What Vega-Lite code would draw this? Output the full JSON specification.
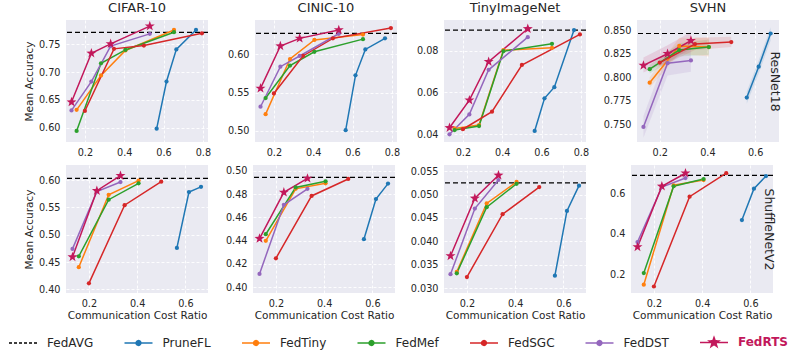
{
"$schema":"https://vega.github.io/schema/vega-lite/v6.json",
"padding":{"left":8,"top":2,"right":0,"bottom":0},
"background":"white",
"data":{"values":[
{"d":"c10","n":"r","m":"FedAVG","y":0.7717},
{"d":"c10","n":"r","m":"PruneFL","x":0.565,"y":0.598},{"d":"c10","n":"r","m":"PruneFL","x":0.615,"y":0.683},{"d":"c10","n":"r","m":"PruneFL","x":0.665,"y":0.741},{"d":"c10","n":"r","m":"PruneFL","x":0.765,"y":0.776},
{"d":"c10","n":"r","m":"FedTiny","x":0.158,"y":0.632},{"d":"c10","n":"r","m":"FedTiny","x":0.282,"y":0.694},{"d":"c10","n":"r","m":"FedTiny","x":0.406,"y":0.739},{"d":"c10","n":"r","m":"FedTiny","x":0.653,"y":0.776},
{"d":"c10","n":"r","m":"FedMef","x":0.158,"y":0.594},{"d":"c10","n":"r","m":"FedMef","x":0.282,"y":0.716},{"d":"c10","n":"r","m":"FedMef","x":0.406,"y":0.740},{"d":"c10","n":"r","m":"FedMef","x":0.653,"y":0.772},
{"d":"c10","n":"r","m":"FedSGC","x":0.2,"y":0.630},{"d":"c10","n":"r","m":"FedSGC","x":0.348,"y":0.742},{"d":"c10","n":"r","m":"FedSGC","x":0.5,"y":0.748},{"d":"c10","n":"r","m":"FedSGC","x":0.795,"y":0.770},
{"d":"c10","n":"r","m":"FedDST","x":0.132,"y":0.631},{"d":"c10","n":"r","m":"FedDST","x":0.233,"y":0.683},{"d":"c10","n":"r","m":"FedDST","x":0.331,"y":0.747},{"d":"c10","n":"r","m":"FedDST","x":0.53,"y":0.769},
{"d":"c10","n":"r","m":"FedRTS","x":0.132,"y":0.646},{"d":"c10","n":"r","m":"FedRTS","x":0.233,"y":0.734},{"d":"c10","n":"r","m":"FedRTS","x":0.331,"y":0.751},{"d":"c10","n":"r","m":"FedRTS","x":0.53,"y":0.783},

{"d":"cin","n":"r","m":"FedAVG","y":0.6275},
{"d":"cin","n":"r","m":"PruneFL","x":0.565,"y":0.501},{"d":"cin","n":"r","m":"PruneFL","x":0.615,"y":0.5727},{"d":"cin","n":"r","m":"PruneFL","x":0.665,"y":0.6065},{"d":"cin","n":"r","m":"PruneFL","x":0.765,"y":0.621},
{"d":"cin","n":"r","m":"FedTiny","x":0.158,"y":0.522},{"d":"cin","n":"r","m":"FedTiny","x":0.282,"y":0.594},{"d":"cin","n":"r","m":"FedTiny","x":0.406,"y":0.619},{"d":"cin","n":"r","m":"FedTiny","x":0.653,"y":0.626},
{"d":"cin","n":"r","m":"FedMef","x":0.158,"y":0.543},{"d":"cin","n":"r","m":"FedMef","x":0.282,"y":0.5855},{"d":"cin","n":"r","m":"FedMef","x":0.406,"y":0.6035},{"d":"cin","n":"r","m":"FedMef","x":0.653,"y":0.620},
{"d":"cin","n":"r","m":"FedSGC","x":0.2,"y":0.549},{"d":"cin","n":"r","m":"FedSGC","x":0.348,"y":0.598},{"d":"cin","n":"r","m":"FedSGC","x":0.5,"y":0.621},{"d":"cin","n":"r","m":"FedSGC","x":0.795,"y":0.6345},
{"d":"cin","n":"r","m":"FedDST","x":0.132,"y":0.5317},{"d":"cin","n":"r","m":"FedDST","x":0.233,"y":0.584},{"d":"cin","n":"r","m":"FedDST","x":0.331,"y":0.598},{"d":"cin","n":"r","m":"FedDST","x":0.53,"y":0.627},
{"d":"cin","n":"r","m":"FedRTS","x":0.132,"y":0.5557},{"d":"cin","n":"r","m":"FedRTS","x":0.233,"y":0.611},{"d":"cin","n":"r","m":"FedRTS","x":0.331,"y":0.621},{"d":"cin","n":"r","m":"FedRTS","x":0.53,"y":0.632},

{"d":"tin","n":"r","m":"FedAVG","y":0.0898},
{"d":"tin","n":"r","m":"PruneFL","x":0.565,"y":0.0416},{"d":"tin","n":"r","m":"PruneFL","x":0.615,"y":0.0572},{"d":"tin","n":"r","m":"PruneFL","x":0.665,"y":0.0625},{"d":"tin","n":"r","m":"PruneFL","x":0.765,"y":0.0898},
{"d":"tin","n":"r","m":"FedTiny","x":0.158,"y":0.0428},{"d":"tin","n":"r","m":"FedTiny","x":0.282,"y":0.0444},{"d":"tin","n":"r","m":"FedTiny","x":0.406,"y":0.0802},{"d":"tin","n":"r","m":"FedTiny","x":0.653,"y":0.0813},
{"d":"tin","n":"r","m":"FedMef","x":0.158,"y":0.0420},{"d":"tin","n":"r","m":"FedMef","x":0.282,"y":0.0439},{"d":"tin","n":"r","m":"FedMef","x":0.406,"y":0.0797},{"d":"tin","n":"r","m":"FedMef","x":0.653,"y":0.0832},
{"d":"tin","n":"r","m":"FedSGC","x":0.2,"y":0.0424},{"d":"tin","n":"r","m":"FedSGC","x":0.348,"y":0.0508},{"d":"tin","n":"r","m":"FedSGC","x":0.5,"y":0.0731},{"d":"tin","n":"r","m":"FedSGC","x":0.795,"y":0.0877},
{"d":"tin","n":"r","m":"FedDST","x":0.132,"y":0.0400},{"d":"tin","n":"r","m":"FedDST","x":0.233,"y":0.0495},{"d":"tin","n":"r","m":"FedDST","x":0.331,"y":0.0708},{"d":"tin","n":"r","m":"FedDST","x":0.53,"y":0.0864},
{"d":"tin","n":"r","m":"FedRTS","x":0.132,"y":0.0431},{"d":"tin","n":"r","m":"FedRTS","x":0.233,"y":0.0563},{"d":"tin","n":"r","m":"FedRTS","x":0.331,"y":0.0747},{"d":"tin","n":"r","m":"FedRTS","x":0.53,"y":0.0904},

{"d":"svh","n":"r","m":"FedAVG","y":0.8464},
{"d":"svh","n":"r","m":"PruneFL","x":0.565,"y":0.7786,"lo":0.772,"hi":0.785},{"d":"svh","n":"r","m":"PruneFL","x":0.615,"y":0.8113,"lo":0.804,"hi":0.818},{"d":"svh","n":"r","m":"PruneFL","x":0.665,"y":0.8464,"lo":0.839,"hi":0.853},
{"d":"svh","n":"r","m":"FedTiny","x":0.158,"y":0.7943,"lo":0.789,"hi":0.80},{"d":"svh","n":"r","m":"FedTiny","x":0.282,"y":0.8332,"lo":0.825,"hi":0.842},{"d":"svh","n":"r","m":"FedTiny","x":0.406,"y":0.832,"lo":0.822,"hi":0.842},
{"d":"svh","n":"r","m":"FedMef","x":0.158,"y":0.8086,"lo":0.804,"hi":0.813},{"d":"svh","n":"r","m":"FedMef","x":0.282,"y":0.8289,"lo":0.822,"hi":0.836},{"d":"svh","n":"r","m":"FedMef","x":0.406,"y":0.832,"lo":0.824,"hi":0.840},
{"d":"svh","n":"r","m":"FedSGC","x":0.2,"y":0.8156,"lo":0.811,"hi":0.821},{"d":"svh","n":"r","m":"FedSGC","x":0.348,"y":0.8352,"lo":0.829,"hi":0.842},{"d":"svh","n":"r","m":"FedSGC","x":0.5,"y":0.8373,"lo":0.832,"hi":0.843},
{"d":"svh","n":"r","m":"FedDST","x":0.132,"y":0.7475,"lo":0.736,"hi":0.759},{"d":"svh","n":"r","m":"FedDST","x":0.233,"y":0.815,"lo":0.802,"hi":0.828},{"d":"svh","n":"r","m":"FedDST","x":0.331,"y":0.8179,"lo":0.806,"hi":0.830},
{"d":"svh","n":"r","m":"FedRTS","x":0.132,"y":0.8126,"lo":0.805,"hi":0.821},{"d":"svh","n":"r","m":"FedRTS","x":0.233,"y":0.825,"lo":0.816,"hi":0.834},{"d":"svh","n":"r","m":"FedRTS","x":0.331,"y":0.8389,"lo":0.830,"hi":0.848},

{"d":"c10","n":"s","m":"FedAVG","y":0.603},
{"d":"c10","n":"s","m":"PruneFL","x":0.565,"y":0.4758},{"d":"c10","n":"s","m":"PruneFL","x":0.615,"y":0.578},{"d":"c10","n":"s","m":"PruneFL","x":0.665,"y":0.5875},
{"d":"c10","n":"s","m":"FedTiny","x":0.158,"y":0.4405},{"d":"c10","n":"s","m":"FedTiny","x":0.282,"y":0.573},{"d":"c10","n":"s","m":"FedTiny","x":0.406,"y":0.599},
{"d":"c10","n":"s","m":"FedMef","x":0.158,"y":0.4604},{"d":"c10","n":"s","m":"FedMef","x":0.282,"y":0.564},{"d":"c10","n":"s","m":"FedMef","x":0.406,"y":0.594},
{"d":"c10","n":"s","m":"FedSGC","x":0.2,"y":0.411},{"d":"c10","n":"s","m":"FedSGC","x":0.348,"y":0.554},{"d":"c10","n":"s","m":"FedSGC","x":0.5,"y":0.597},
{"d":"c10","n":"s","m":"FedDST","x":0.132,"y":0.474},{"d":"c10","n":"s","m":"FedDST","x":0.233,"y":0.579},{"d":"c10","n":"s","m":"FedDST","x":0.331,"y":0.5963},
{"d":"c10","n":"s","m":"FedRTS","x":0.132,"y":0.4592},{"d":"c10","n":"s","m":"FedRTS","x":0.233,"y":0.5804},{"d":"c10","n":"s","m":"FedRTS","x":0.331,"y":0.608},

{"d":"cin","n":"s","m":"FedAVG","y":0.4943},
{"d":"cin","n":"s","m":"PruneFL","x":0.565,"y":0.4412},{"d":"cin","n":"s","m":"PruneFL","x":0.615,"y":0.4757},{"d":"cin","n":"s","m":"PruneFL","x":0.665,"y":0.489},
{"d":"cin","n":"s","m":"FedTiny","x":0.158,"y":0.4398},{"d":"cin","n":"s","m":"FedTiny","x":0.282,"y":0.4845},{"d":"cin","n":"s","m":"FedTiny","x":0.406,"y":0.4893},
{"d":"cin","n":"s","m":"FedMef","x":0.158,"y":0.4455},{"d":"cin","n":"s","m":"FedMef","x":0.282,"y":0.4857},{"d":"cin","n":"s","m":"FedMef","x":0.406,"y":0.491},
{"d":"cin","n":"s","m":"FedSGC","x":0.2,"y":0.4248},{"d":"cin","n":"s","m":"FedSGC","x":0.348,"y":0.4784},{"d":"cin","n":"s","m":"FedSGC","x":0.5,"y":0.493},
{"d":"cin","n":"s","m":"FedDST","x":0.132,"y":0.4114},{"d":"cin","n":"s","m":"FedDST","x":0.233,"y":0.4708},{"d":"cin","n":"s","m":"FedDST","x":0.331,"y":0.4845},
{"d":"cin","n":"s","m":"FedRTS","x":0.132,"y":0.4418},{"d":"cin","n":"s","m":"FedRTS","x":0.233,"y":0.4815},{"d":"cin","n":"s","m":"FedRTS","x":0.331,"y":0.4935},

{"d":"tin","n":"s","m":"FedAVG","y":0.0525},
{"d":"tin","n":"s","m":"PruneFL","x":0.565,"y":0.0327},{"d":"tin","n":"s","m":"PruneFL","x":0.615,"y":0.0465},{"d":"tin","n":"s","m":"PruneFL","x":0.665,"y":0.0519},
{"d":"tin","n":"s","m":"FedTiny","x":0.158,"y":0.0335},{"d":"tin","n":"s","m":"FedTiny","x":0.282,"y":0.0481},{"d":"tin","n":"s","m":"FedTiny","x":0.406,"y":0.0527},
{"d":"tin","n":"s","m":"FedMef","x":0.158,"y":0.0332},{"d":"tin","n":"s","m":"FedMef","x":0.282,"y":0.0473},{"d":"tin","n":"s","m":"FedMef","x":0.406,"y":0.0523},
{"d":"tin","n":"s","m":"FedSGC","x":0.2,"y":0.0324},{"d":"tin","n":"s","m":"FedSGC","x":0.348,"y":0.0458},{"d":"tin","n":"s","m":"FedSGC","x":0.5,"y":0.0516},
{"d":"tin","n":"s","m":"FedDST","x":0.132,"y":0.0330},{"d":"tin","n":"s","m":"FedDST","x":0.233,"y":0.0470},{"d":"tin","n":"s","m":"FedDST","x":0.331,"y":0.0531},
{"d":"tin","n":"s","m":"FedRTS","x":0.132,"y":0.0369},{"d":"tin","n":"s","m":"FedRTS","x":0.233,"y":0.0492},{"d":"tin","n":"s","m":"FedRTS","x":0.331,"y":0.0541},

{"d":"svh","n":"s","m":"FedAVG","y":0.6927},
{"d":"svh","n":"s","m":"PruneFL","x":0.565,"y":0.4695},{"d":"svh","n":"s","m":"PruneFL","x":0.615,"y":0.6258},{"d":"svh","n":"s","m":"PruneFL","x":0.665,"y":0.689},
{"d":"svh","n":"s","m":"FedTiny","x":0.158,"y":0.1468},{"d":"svh","n":"s","m":"FedTiny","x":0.282,"y":0.643},{"d":"svh","n":"s","m":"FedTiny","x":0.406,"y":0.6687},
{"d":"svh","n":"s","m":"FedMef","x":0.158,"y":0.205},{"d":"svh","n":"s","m":"FedMef","x":0.282,"y":0.638},{"d":"svh","n":"s","m":"FedMef","x":0.406,"y":0.674},
{"d":"svh","n":"s","m":"FedSGC","x":0.2,"y":0.138},{"d":"svh","n":"s","m":"FedSGC","x":0.348,"y":0.586},{"d":"svh","n":"s","m":"FedSGC","x":0.5,"y":0.703},
{"d":"svh","n":"s","m":"FedDST","x":0.132,"y":0.3597},{"d":"svh","n":"s","m":"FedDST","x":0.233,"y":0.634},{"d":"svh","n":"s","m":"FedDST","x":0.331,"y":0.679},
{"d":"svh","n":"s","m":"FedRTS","x":0.132,"y":0.3356},{"d":"svh","n":"s","m":"FedRTS","x":0.233,"y":0.638},{"d":"svh","n":"s","m":"FedRTS","x":0.331,"y":0.703}
]},
"config":{
 "font":"DejaVu Sans",
 "view":{"fill":"#EAEAF2","stroke":null},
 "axis":{"domain":false,"ticks":false,"gridColor":"#ffffff","gridDash":[3,2],"gridWidth":0.9,"labelFontSize":9.7,"labelColor":"#262626","titleFontSize":10.5,"titleFontWeight":"normal","titleColor":"#262626","labelFont":"DejaVu Sans","titleFont":"DejaVu Sans"},
 "axisX":{"labelPadding":5,"titlePadding":3},
 "axisY":{"labelPadding":6,"titlePadding":2,"minExtent":30,"maxExtent":30},
 "title":{"fontSize":13,"fontWeight":"normal","color":"#262626","offset":5,"font":"DejaVu Sans"},
 "legend":{"labelFont":"DejaVu Sans","labelFontSize":12,"labelColor":"#262626"}
},
"spacing":8,
"vconcat":[
{"spacing":14,"hconcat":[
 {"width":142,"height":122,"title":"CIFAR-10",
  "transform":[{"filter":"datum.d==='c10' && datum.n==='r'"}],
  "encoding":{
   "y":{"field":"y","type":"quantitative","scale":{"domain":[0.574,0.794],"nice":false,"zero":false},"axis":{"values":[0.6,0.65,0.7,0.75],"format":".2f","title":"Mean Accuracy"}},
   "color":{"field":"m","type":"nominal","scale":{"domain":["FedAVG","PruneFL","FedTiny","FedMef","FedSGC","FedDST","FedRTS"],"range":["#000000","#1f77b4","#ff7f0e","#2ca02c","#d62728","#9467bd","#c2185b"]},
    "legend":{"orient":"none","legendX":-58,"legendY":307,"direction":"horizontal","columns":7,"title":null,"symbolSize":784,"symbolStrokeWidth":1.5,"labelFontSize":12,"labelOffset":9,"columnPadding":27.5,
     "encode":{"symbols":{"update":{"shape":{"signal":"datum.value==='FedAVG' ? 'M-1,0H1' : datum.value==='FedRTS' ? 'M-1,0H1M0,-0.36L0.085,-0.116L0.342,-0.111L0.137,0.044L0.212,0.291L0,0.144L-0.212,0.291L-0.137,0.044L-0.342,-0.111L-0.085,-0.116Z' : 'M-1,0H1M0.17,0A0.17,0.17,0,1,1,-0.17,0A0.17,0.17,0,1,1,0.17,0Z'"},"strokeDash":{"signal":"datum.value==='FedAVG' ? [3,2] : [1,0]"},"fill":{"signal":"scale('color', datum.value)"},"stroke":{"signal":"scale('color', datum.value)"},"opacity":{"value":1}}},
      "labels":{"update":{"fontWeight":{"signal":"datum.value==='FedRTS' ? 'bold' : 'normal'"},"fill":{"signal":"datum.value==='FedRTS' ? '#c2185b' : '#262626'"}}}}}}
  },
  "layer":[
   {"transform":[{"filter":"datum.m==='FedAVG'"}],"mark":{"type":"rule","strokeDash":[5,3],"strokeWidth":1.2},"encoding":{}},
   {"transform":[{"filter":"datum.m!=='FedAVG'"}],"mark":{"type":"line","strokeWidth":1.5},"encoding":{"x":{"field":"x","type":"quantitative","scale":{"domain":[0.104,0.826],"nice":false,"zero":false},"axis":{"values":[0.2,0.4,0.6,0.8],"format":".1f","title":null}}}},
   {"transform":[{"filter":"datum.m!=='FedAVG' && datum.m!=='FedRTS'"}],"mark":{"type":"point","filled":true,"size":18,"opacity":1},"encoding":{"x":{"field":"x","type":"quantitative","scale":{"domain":[0.104,0.826],"nice":false,"zero":false},"axis":{"values":[0.2,0.4,0.6,0.8],"format":".1f","title":null}}}},
   {"transform":[{"filter":"datum.m==='FedRTS'"}],"mark":{"type":"point","filled":true,"size":110,"opacity":1,"shape":"M0,-1L0.235,-0.324L0.951,-0.309L0.38,0.124L0.588,0.809L0,0.4L-0.588,0.809L-0.38,0.124L-0.951,-0.309L-0.235,-0.324Z"},"encoding":{"x":{"field":"x","type":"quantitative","scale":{"domain":[0.104,0.826],"nice":false,"zero":false},"axis":{"values":[0.2,0.4,0.6,0.8],"format":".1f","title":null}}}}
  ]},
 {"width":142,"height":122,"title":"CINIC-10",
  "transform":[{"filter":"datum.d==='cin' && datum.n==='r'"}],
  "encoding":{
   "y":{"field":"y","type":"quantitative","scale":{"domain":[0.4856,0.645],"nice":false,"zero":false},"axis":{"values":[0.5,0.55,0.6],"format":".2f","title":null}},
   "color":{"field":"m","type":"nominal","scale":{"domain":["FedAVG","PruneFL","FedTiny","FedMef","FedSGC","FedDST","FedRTS"],"range":["#000000","#1f77b4","#ff7f0e","#2ca02c","#d62728","#9467bd","#c2185b"]},"legend":null}
  },
  "layer":[
   {"transform":[{"filter":"datum.m==='FedAVG'"}],"mark":{"type":"rule","strokeDash":[5,3],"strokeWidth":1.2},"encoding":{}},
   {"transform":[{"filter":"datum.m!=='FedAVG'"}],"mark":{"type":"line","strokeWidth":1.5},"encoding":{"x":{"field":"x","type":"quantitative","scale":{"domain":[0.104,0.826],"nice":false,"zero":false},"axis":{"values":[0.2,0.4,0.6,0.8],"format":".1f","title":null}}}},
   {"transform":[{"filter":"datum.m!=='FedAVG' && datum.m!=='FedRTS'"}],"mark":{"type":"point","filled":true,"size":18,"opacity":1},"encoding":{"x":{"field":"x","type":"quantitative","scale":{"domain":[0.104,0.826],"nice":false,"zero":false},"axis":{"values":[0.2,0.4,0.6,0.8],"format":".1f","title":null}}}},
   {"transform":[{"filter":"datum.m==='FedRTS'"}],"mark":{"type":"point","filled":true,"size":110,"opacity":1,"shape":"M0,-1L0.235,-0.324L0.951,-0.309L0.38,0.124L0.588,0.809L0,0.4L-0.588,0.809L-0.38,0.124L-0.951,-0.309L-0.235,-0.324Z"},"encoding":{"x":{"field":"x","type":"quantitative","scale":{"domain":[0.104,0.826],"nice":false,"zero":false},"axis":{"values":[0.2,0.4,0.6,0.8],"format":".1f","title":null}}}}
  ]},
 {"width":142,"height":122,"title":"TinyImageNet",
  "transform":[{"filter":"datum.d==='tin' && datum.n==='r'"}],
  "encoding":{
   "y":{"field":"y","type":"quantitative","scale":{"domain":[0.0363,0.0946],"nice":false,"zero":false},"axis":{"values":[0.04,0.06,0.08],"format":".2f","title":null}},
   "color":{"field":"m","type":"nominal","scale":{"domain":["FedAVG","PruneFL","FedTiny","FedMef","FedSGC","FedDST","FedRTS"],"range":["#000000","#1f77b4","#ff7f0e","#2ca02c","#d62728","#9467bd","#c2185b"]},"legend":null}
  },
  "layer":[
   {"transform":[{"filter":"datum.m==='FedAVG'"}],"mark":{"type":"rule","strokeDash":[5,3],"strokeWidth":1.2},"encoding":{}},
   {"transform":[{"filter":"datum.m!=='FedAVG'"}],"mark":{"type":"line","strokeWidth":1.5},"encoding":{"x":{"field":"x","type":"quantitative","scale":{"domain":[0.104,0.826],"nice":false,"zero":false},"axis":{"values":[0.2,0.4,0.6,0.8],"format":".1f","title":null}}}},
   {"transform":[{"filter":"datum.m!=='FedAVG' && datum.m!=='FedRTS'"}],"mark":{"type":"point","filled":true,"size":18,"opacity":1},"encoding":{"x":{"field":"x","type":"quantitative","scale":{"domain":[0.104,0.826],"nice":false,"zero":false},"axis":{"values":[0.2,0.4,0.6,0.8],"format":".1f","title":null}}}},
   {"transform":[{"filter":"datum.m==='FedRTS'"}],"mark":{"type":"point","filled":true,"size":110,"opacity":1,"shape":"M0,-1L0.235,-0.324L0.951,-0.309L0.38,0.124L0.588,0.809L0,0.4L-0.588,0.809L-0.38,0.124L-0.951,-0.309L-0.235,-0.324Z"},"encoding":{"x":{"field":"x","type":"quantitative","scale":{"domain":[0.104,0.826],"nice":false,"zero":false},"axis":{"values":[0.2,0.4,0.6,0.8],"format":".1f","title":null}}}}
  ]},
 {"width":142,"height":122,"title":"SVHN",
  "transform":[{"filter":"datum.d==='svh' && datum.n==='r'"}],
  "encoding":{
   "color":{"field":"m","type":"nominal","scale":{"domain":["FedAVG","PruneFL","FedTiny","FedMef","FedSGC","FedDST","FedRTS"],"range":["#000000","#1f77b4","#ff7f0e","#2ca02c","#d62728","#9467bd","#c2185b"]},"legend":null}
  },
  "resolve":{"axis":{"y":"independent"}},
  "layer":[
   {"transform":[{"filter":"datum.m!=='FedAVG'"}],"mark":{"type":"area","opacity":0.13},"encoding":{"x":{"field":"x","type":"quantitative","scale":{"domain":[0.105,0.70],"nice":false,"zero":false},"axis":{"values":[0.2,0.4,0.6],"format":".1f","title":null}},"y":{"field":"lo","type":"quantitative","scale":{"domain":[0.7315,0.8607],"nice":false,"zero":false},"axis":null},"y2":{"field":"hi"}}},
   {"transform":[{"filter":"datum.m==='FedAVG'"}],"mark":{"type":"rule","strokeDash":[5,3],"strokeWidth":1.2},"encoding":{"y":{"field":"y","type":"quantitative","scale":{"domain":[0.7315,0.8607],"nice":false,"zero":false},"axis":{"orient":"right","title":"ResNet18","labels":false,"ticks":false,"domain":false,"grid":false,"titleFontSize":12.5,"titlePadding":-12,"minExtent":0,"maxExtent":0}}}},
   {"transform":[{"filter":"datum.m!=='FedAVG'"}],"mark":{"type":"line","strokeWidth":1.5},"encoding":{"x":{"field":"x","type":"quantitative","scale":{"domain":[0.105,0.70],"nice":false,"zero":false},"axis":{"values":[0.2,0.4,0.6],"format":".1f","title":null}},"y":{"field":"y","type":"quantitative","scale":{"domain":[0.7315,0.8607],"nice":false,"zero":false},"axis":{"values":[0.75,0.775,0.8,0.825,0.85],"format":".3f","title":null}}}},
   {"transform":[{"filter":"datum.m!=='FedAVG' && datum.m!=='FedRTS'"}],"mark":{"type":"point","filled":true,"size":18,"opacity":1},"encoding":{"x":{"field":"x","type":"quantitative","scale":{"domain":[0.105,0.70],"nice":false,"zero":false},"axis":{"values":[0.2,0.4,0.6],"format":".1f","title":null}},"y":{"field":"y","type":"quantitative","scale":{"domain":[0.7315,0.8607],"nice":false,"zero":false},"axis":null}}},
   {"transform":[{"filter":"datum.m==='FedRTS'"}],"mark":{"type":"point","filled":true,"size":110,"opacity":1,"shape":"M0,-1L0.235,-0.324L0.951,-0.309L0.38,0.124L0.588,0.809L0,0.4L-0.588,0.809L-0.38,0.124L-0.951,-0.309L-0.235,-0.324Z"},"encoding":{"x":{"field":"x","type":"quantitative","scale":{"domain":[0.105,0.70],"nice":false,"zero":false},"axis":{"values":[0.2,0.4,0.6],"format":".1f","title":null}},"y":{"field":"y","type":"quantitative","scale":{"domain":[0.7315,0.8607],"nice":false,"zero":false},"axis":null}}}
  ]}
]},
{"spacing":14,"hconcat":[
 {"width":142,"height":128,
  "transform":[{"filter":"datum.d==='c10' && datum.n==='s'"}],
  "encoding":{
   "y":{"field":"y","type":"quantitative","scale":{"domain":[0.3933,0.6275],"nice":false,"zero":false},"axis":{"values":[0.4,0.45,0.5,0.55,0.6],"format":".2f","title":"Mean Accuracy"}},
   "color":{"field":"m","type":"nominal","scale":{"domain":["FedAVG","PruneFL","FedTiny","FedMef","FedSGC","FedDST","FedRTS"],"range":["#000000","#1f77b4","#ff7f0e","#2ca02c","#d62728","#9467bd","#c2185b"]},"legend":null}
  },
  "layer":[
   {"transform":[{"filter":"datum.m==='FedAVG'"}],"mark":{"type":"rule","strokeDash":[5,3],"strokeWidth":1.2},"encoding":{}},
   {"transform":[{"filter":"datum.m!=='FedAVG'"}],"mark":{"type":"line","strokeWidth":1.5},"encoding":{"x":{"field":"x","type":"quantitative","scale":{"domain":[0.105,0.694],"nice":false,"zero":false},"axis":{"values":[0.2,0.4,0.6],"format":".1f","title":"Communication Cost Ratio"}}}},
   {"transform":[{"filter":"datum.m!=='FedAVG' && datum.m!=='FedRTS'"}],"mark":{"type":"point","filled":true,"size":18,"opacity":1},"encoding":{"x":{"field":"x","type":"quantitative","scale":{"domain":[0.105,0.694],"nice":false,"zero":false},"axis":{"values":[0.2,0.4,0.6],"format":".1f","title":"Communication Cost Ratio"}}}},
   {"transform":[{"filter":"datum.m==='FedRTS'"}],"mark":{"type":"point","filled":true,"size":110,"opacity":1,"shape":"M0,-1L0.235,-0.324L0.951,-0.309L0.38,0.124L0.588,0.809L0,0.4L-0.588,0.809L-0.38,0.124L-0.951,-0.309L-0.235,-0.324Z"},"encoding":{"x":{"field":"x","type":"quantitative","scale":{"domain":[0.105,0.694],"nice":false,"zero":false},"axis":{"values":[0.2,0.4,0.6],"format":".1f","title":"Communication Cost Ratio"}}}}
  ]},
 {"width":142,"height":128,
  "transform":[{"filter":"datum.d==='cin' && datum.n==='s'"}],
  "encoding":{
   "y":{"field":"y","type":"quantitative","scale":{"domain":[0.395,0.505],"nice":false,"zero":false},"axis":{"values":[0.4,0.42,0.44,0.46,0.48,0.5],"format":".2f","title":null}},
   "color":{"field":"m","type":"nominal","scale":{"domain":["FedAVG","PruneFL","FedTiny","FedMef","FedSGC","FedDST","FedRTS"],"range":["#000000","#1f77b4","#ff7f0e","#2ca02c","#d62728","#9467bd","#c2185b"]},"legend":null}
  },
  "layer":[
   {"transform":[{"filter":"datum.m==='FedAVG'"}],"mark":{"type":"rule","strokeDash":[5,3],"strokeWidth":1.2},"encoding":{}},
   {"transform":[{"filter":"datum.m!=='FedAVG'"}],"mark":{"type":"line","strokeWidth":1.5},"encoding":{"x":{"field":"x","type":"quantitative","scale":{"domain":[0.105,0.694],"nice":false,"zero":false},"axis":{"values":[0.2,0.4,0.6],"format":".1f","title":"Communication Cost Ratio"}}}},
   {"transform":[{"filter":"datum.m!=='FedAVG' && datum.m!=='FedRTS'"}],"mark":{"type":"point","filled":true,"size":18,"opacity":1},"encoding":{"x":{"field":"x","type":"quantitative","scale":{"domain":[0.105,0.694],"nice":false,"zero":false},"axis":{"values":[0.2,0.4,0.6],"format":".1f","title":"Communication Cost Ratio"}}}},
   {"transform":[{"filter":"datum.m==='FedRTS'"}],"mark":{"type":"point","filled":true,"size":110,"opacity":1,"shape":"M0,-1L0.235,-0.324L0.951,-0.309L0.38,0.124L0.588,0.809L0,0.4L-0.588,0.809L-0.38,0.124L-0.951,-0.309L-0.235,-0.324Z"},"encoding":{"x":{"field":"x","type":"quantitative","scale":{"domain":[0.105,0.694],"nice":false,"zero":false},"axis":{"values":[0.2,0.4,0.6],"format":".1f","title":"Communication Cost Ratio"}}}}
  ]},
 {"width":142,"height":128,
  "transform":[{"filter":"datum.d==='tin' && datum.n==='s'"}],
  "encoding":{
   "y":{"field":"y","type":"quantitative","scale":{"domain":[0.029,0.0563],"nice":false,"zero":false},"axis":{"values":[0.03,0.035,0.04,0.045,0.05,0.055],"format":".3f","title":null}},
   "color":{"field":"m","type":"nominal","scale":{"domain":["FedAVG","PruneFL","FedTiny","FedMef","FedSGC","FedDST","FedRTS"],"range":["#000000","#1f77b4","#ff7f0e","#2ca02c","#d62728","#9467bd","#c2185b"]},"legend":null}
  },
  "layer":[
   {"transform":[{"filter":"datum.m==='FedAVG'"}],"mark":{"type":"rule","strokeDash":[5,3],"strokeWidth":1.2},"encoding":{}},
   {"transform":[{"filter":"datum.m!=='FedAVG'"}],"mark":{"type":"line","strokeWidth":1.5},"encoding":{"x":{"field":"x","type":"quantitative","scale":{"domain":[0.105,0.694],"nice":false,"zero":false},"axis":{"values":[0.2,0.4,0.6],"format":".1f","title":"Communication Cost Ratio"}}}},
   {"transform":[{"filter":"datum.m!=='FedAVG' && datum.m!=='FedRTS'"}],"mark":{"type":"point","filled":true,"size":18,"opacity":1},"encoding":{"x":{"field":"x","type":"quantitative","scale":{"domain":[0.105,0.694],"nice":false,"zero":false},"axis":{"values":[0.2,0.4,0.6],"format":".1f","title":"Communication Cost Ratio"}}}},
   {"transform":[{"filter":"datum.m==='FedRTS'"}],"mark":{"type":"point","filled":true,"size":110,"opacity":1,"shape":"M0,-1L0.235,-0.324L0.951,-0.309L0.38,0.124L0.588,0.809L0,0.4L-0.588,0.809L-0.38,0.124L-0.951,-0.309L-0.235,-0.324Z"},"encoding":{"x":{"field":"x","type":"quantitative","scale":{"domain":[0.105,0.694],"nice":false,"zero":false},"axis":{"values":[0.2,0.4,0.6],"format":".1f","title":"Communication Cost Ratio"}}}}
  ]},
 {"width":142,"height":128,
  "transform":[{"filter":"datum.d==='svh' && datum.n==='s'"}],
  "encoding":{
   "color":{"field":"m","type":"nominal","scale":{"domain":["FedAVG","PruneFL","FedTiny","FedMef","FedSGC","FedDST","FedRTS"],"range":["#000000","#1f77b4","#ff7f0e","#2ca02c","#d62728","#9467bd","#c2185b"]},"legend":null}
  },
  "resolve":{"axis":{"y":"independent"}},
  "layer":[
   {"transform":[{"filter":"datum.m==='FedAVG'"}],"mark":{"type":"rule","strokeDash":[5,3],"strokeWidth":1.2},"encoding":{"y":{"field":"y","type":"quantitative","scale":{"domain":[0.1056,0.744],"nice":false,"zero":false},"axis":{"orient":"right","title":"ShuffleNetV2","labels":false,"ticks":false,"domain":false,"grid":false,"titleFontSize":12.5,"titlePadding":-12,"minExtent":0,"maxExtent":0}}}},
   {"transform":[{"filter":"datum.m!=='FedAVG'"}],"mark":{"type":"line","strokeWidth":1.5},"encoding":{"x":{"field":"x","type":"quantitative","scale":{"domain":[0.105,0.694],"nice":false,"zero":false},"axis":{"values":[0.2,0.4,0.6],"format":".1f","title":"Communication Cost Ratio"}},"y":{"field":"y","type":"quantitative","scale":{"domain":[0.1056,0.744],"nice":false,"zero":false},"axis":{"values":[0.2,0.4,0.6],"format":".1f","title":null}}}},
   {"transform":[{"filter":"datum.m!=='FedAVG' && datum.m!=='FedRTS'"}],"mark":{"type":"point","filled":true,"size":18,"opacity":1},"encoding":{"x":{"field":"x","type":"quantitative","scale":{"domain":[0.105,0.694],"nice":false,"zero":false},"axis":{"values":[0.2,0.4,0.6],"format":".1f","title":"Communication Cost Ratio"}},"y":{"field":"y","type":"quantitative","scale":{"domain":[0.1056,0.744],"nice":false,"zero":false},"axis":null}}},
   {"transform":[{"filter":"datum.m==='FedRTS'"}],"mark":{"type":"point","filled":true,"size":110,"opacity":1,"shape":"M0,-1L0.235,-0.324L0.951,-0.309L0.38,0.124L0.588,0.809L0,0.4L-0.588,0.809L-0.38,0.124L-0.951,-0.309L-0.235,-0.324Z"},"encoding":{"x":{"field":"x","type":"quantitative","scale":{"domain":[0.105,0.694],"nice":false,"zero":false},"axis":{"values":[0.2,0.4,0.6],"format":".1f","title":"Communication Cost Ratio"}},"y":{"field":"y","type":"quantitative","scale":{"domain":[0.1056,0.744],"nice":false,"zero":false},"axis":null}}}
  ]}
]}
]
}
